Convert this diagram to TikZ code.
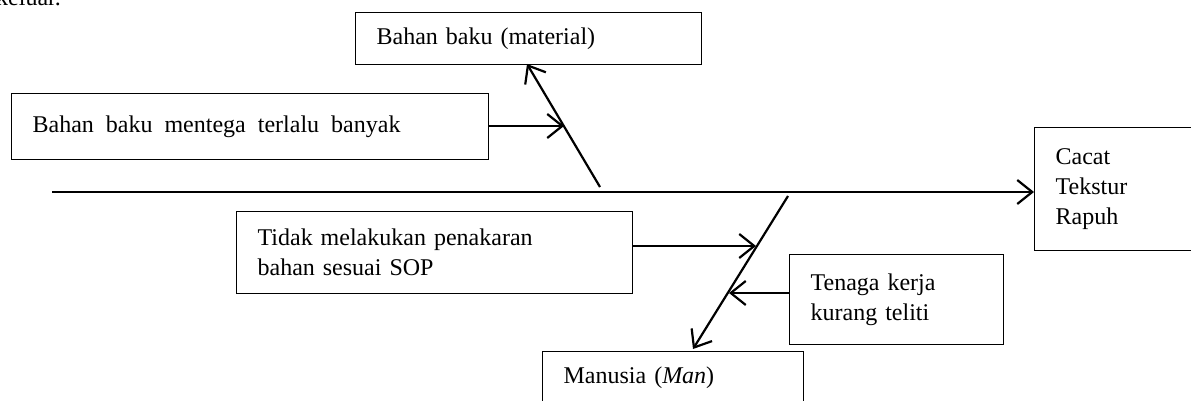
\documentclass[tikz,border=0pt]{standalone}
\usepackage{fontspec}
\setmainfont{Liberation Serif}
\usetikzlibrary{arrows.meta}
\begin{document}
\begin{tikzpicture}[x=1pt,y=-1pt,
  txt/.style={font=\fontsize{24}{30}\selectfont},
  box/.style={txt, draw, line width=1.2pt, anchor=north west, align=left,
    inner xsep=21pt, inner ysep=0pt},
  conn/.style={line width=2.2pt,
    -{Straight Barb[length=15pt,width=24pt,line width=2.2pt]}},
]
\useasboundingbox (0,0) rectangle (1191,401);

% line of the preceding paragraph, cut by the page edge
\node[txt, anchor=base west, inner sep=0pt] (kel) at (-4,6) {keluar.};

% cause and effect boxes
\node[box, minimum width=346pt, text width=304pt, minimum height=52pt] (mat) at (355,12) {Bahan baku (material)};
\node[box, minimum width=477pt, text width=435pt, minimum height=66pt] (ment) at (11,93) {\spaceskip=12pt plus 2pt Bahan baku mentega terlalu banyak};
\node[box, minimum width=396pt, text width=354pt, minimum height=82pt] (tidak) at (236,211) {Tidak melakukan penakaran\\bahan sesuai SOP};
\node[box, minimum width=214pt, text width=172pt, minimum height=90pt] (tenaga) at (789,254) {Tenaga kerja\\kurang teliti};
\node[box, minimum width=261pt, text width=219pt, minimum height=52pt] (man) at (542,351) {Manusia (\textit{Man})};
\node[box, minimum width=250pt, text width=208pt, minimum height=123pt] (cacat) at (1034,127) {Cacat\\Tekstur\\Rapuh};

% spine
\coordinate (s0) at (52,192);
\draw[conn] (s0) -- (s0 -| cacat.west);

% material bone
\coordinate (u0) at (600,187);
\coordinate (u1) at (527,64);
\coordinate (uA) at (564,126);
\draw[conn] (u0) -- (u1);
\draw[conn] (ment.east |- uA) -- (uA);

% man bone
\coordinate (l0) at (788,196);
\coordinate (l1) at (693,349);
\coordinate (lA) at (756,246);
\coordinate (lB) at (729,293);
\draw[conn] (l0) -- (l1);
\draw[conn] (tidak.east |- lA) -- (lA);
\draw[conn] (tenaga.west |- lB) -- (lB);
\end{tikzpicture}
\end{document}
